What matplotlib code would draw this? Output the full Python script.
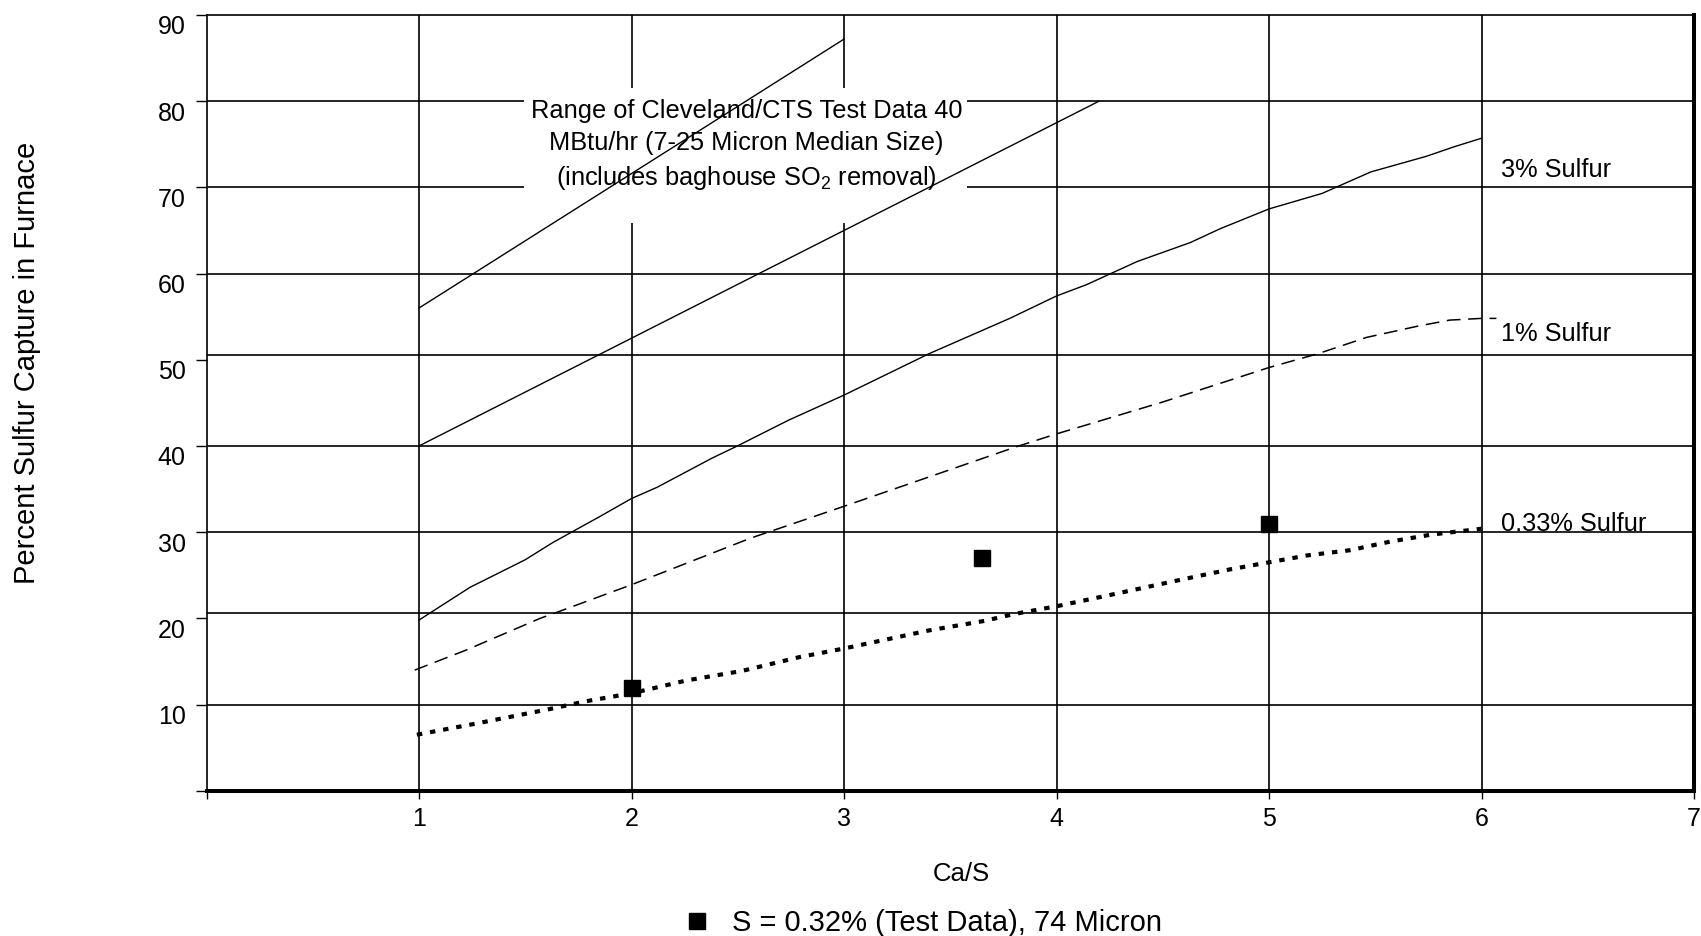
import numpy as np
import matplotlib.pyplot as plt
from matplotlib.patches import Rectangle
from matplotlib.transforms import ScaledTranslation

plt.rcParams['font.family'] = ['Liberation Sans', 'DejaVu Sans']
plt.rcParams['mathtext.fontset'] = 'custom'
plt.rcParams['mathtext.rm'] = 'Liberation Sans'
plt.rcParams['mathtext.it'] = 'Liberation Sans:italic'
plt.rcParams['mathtext.bf'] = 'Liberation Sans:bold'

# 3% sulfur curve (solid)
s3_x = [1.0, 1.24, 1.5, 1.63, 1.85, 2.0, 2.12, 2.38, 2.49, 2.74, 3.0, 3.4,
        3.78, 4.0, 4.14, 4.38, 4.63, 4.77, 5.0, 5.25, 5.48, 5.74, 5.87, 6.0]
s3_y = [19.8, 23.6, 26.8, 28.8, 31.8, 33.9, 35.2, 38.6, 39.9, 43.0, 45.9, 50.7,
        54.8, 57.4, 58.7, 61.4, 63.6, 65.2, 67.5, 69.3, 71.8, 73.6, 74.7, 75.7]

# 1% sulfur curve (dashed)
s1_x = [0.98, 1.22, 1.57, 1.66, 2.0, 2.56, 3.0, 3.47, 3.81, 4.0, 4.19, 4.5,
        5.0, 5.23, 5.46, 5.7, 5.85, 6.0, 6.07]
s1_y = [14.0, 16.3, 20.0, 20.8, 23.9, 29.3, 33.0, 37.0, 39.9, 41.4, 42.8, 45.1,
        49.1, 50.7, 52.6, 53.9, 54.6, 54.8, 54.8]

# 0.33% sulfur curve (dotted)
s033_x = [0.99, 1.27, 1.6, 1.79, 2.0, 2.26, 2.52, 2.79, 3.0, 3.4, 3.66, 3.8,
          4.0, 4.25, 4.57, 4.82, 5.0, 5.18, 5.38, 5.57, 5.76, 6.0]
s033_y = [6.5, 7.8, 9.4, 10.4, 11.3, 12.8, 13.9, 15.5, 16.5, 18.6, 19.7, 20.5,
          21.4, 22.7, 24.4, 25.7, 26.5, 27.3, 27.9, 28.9, 29.7, 30.4]

# Cleveland/CTS range lines
range_hi_x = [1.0, 3.0]
range_hi_y = [56.0, 87.2]
range_lo_x = [1.0, 4.2]
range_lo_y = [40.0, 80.0]

# test data, S = 0.32 %
test_x = [2.0, 3.65, 5.0]
test_y = [11.9, 27.0, 30.9]

# hand drawn grid of the original
grid_x = [1, 2, 3, 4, 5, 6]
grid_y = [10, 20.6, 30, 40, 50.5, 60, 70, 80]

fig = plt.figure(figsize=(17.01, 9.36), dpi=100)
ax = fig.add_axes([0.1214, 0.1552, 0.8745, 0.8288])
ax.set_xlim(0, 7)
ax.set_ylim(0, 90)

ax.vlines(grid_x, 0, 90, color='black', lw=1.2, zorder=1)
ax.hlines(grid_y, 0, 7, color='black', lw=1.2, zorder=1)

# white box behind the annotation
ax.add_patch(Rectangle((1.495, 65.9), 3.58 - 1.495, 81.5 - 65.9,
                       facecolor='white', edgecolor='none', zorder=2))
ax.text(2.54, 74.9,
        "Range of Cleveland/CTS Test Data 40\n"
        "MBtu/hr (7-25 Micron Median Size)\n"
        "(includes baghouse SO$_2$ removal)",
        ha='center', va='center', fontsize=18.3, linespacing=1.42, zorder=3)

ax.plot(range_hi_x, range_hi_y, color='black', lw=1.0, zorder=4)
ax.plot(range_lo_x, range_lo_y, color='black', lw=1.0, zorder=4)
ax.plot(s3_x, s3_y, color='black', lw=1.0, zorder=4)
ax.plot(s1_x, s1_y, color='black', lw=1.1, ls=(0, (9, 5)), zorder=4)
ax.plot(s033_x, s033_y, color='black', lw=3.0, ls=(0, (1.3, 1.9)),
        dash_capstyle='butt', zorder=4)
pts, = ax.plot(test_x, test_y, 's', ms=11, color='black', zorder=5,
               label='S = 0.32% (Test Data), 74 Micron')

ax.text(6.09, 72.0, '3% Sulfur', fontsize=18.3, va='center', ha='left')
ax.text(6.09, 53.0, '1% Sulfur', fontsize=18.3, va='center', ha='left')
ax.text(6.09, 31.0, '0.33% Sulfur', fontsize=18.3, va='center', ha='left')

for side in ['left', 'top']:
    ax.spines[side].set_linewidth(1.2)
for side in ['right', 'bottom']:
    ax.spines[side].set_linewidth(2.9)
for sp in ax.spines.values():
    sp.set_zorder(6)

ax.set_xticks(range(0, 8))
ax.set_xticklabels([''] + [str(i) for i in range(1, 8)])
ax.set_yticks(range(0, 91, 10))
ax.set_yticklabels([''] + [str(i) for i in range(10, 91, 10)])
ax.tick_params(axis='y', direction='out', length=8, width=1, pad=7, labelsize=18)
ax.tick_params(axis='x', direction='out', length=6, width=1, pad=6, labelsize=18)

shift = ScaledTranslation(0, -0.10, fig.dpi_scale_trans)
for lab in ax.get_yticklabels():
    lab.set_transform(lab.get_transform() + shift)

fig.text(27 / 1701, 0.6127, 'Percent Sulfur Capture in Furnace',
         rotation=90, ha='center', va='center', fontsize=21)
fig.text(961 / 1701, 1 - 874 / 936, 'Ca/S', ha='center', va='center', fontsize=18.5)

fig.legend(handles=[pts], loc='center', bbox_to_anchor=(924 / 1701, 1 - 923 / 936),
           frameon=False, fontsize=21, numpoints=1, handlelength=0.8,
           handletextpad=0.8, borderpad=0)

fig.savefig('out.png', dpi=100)
